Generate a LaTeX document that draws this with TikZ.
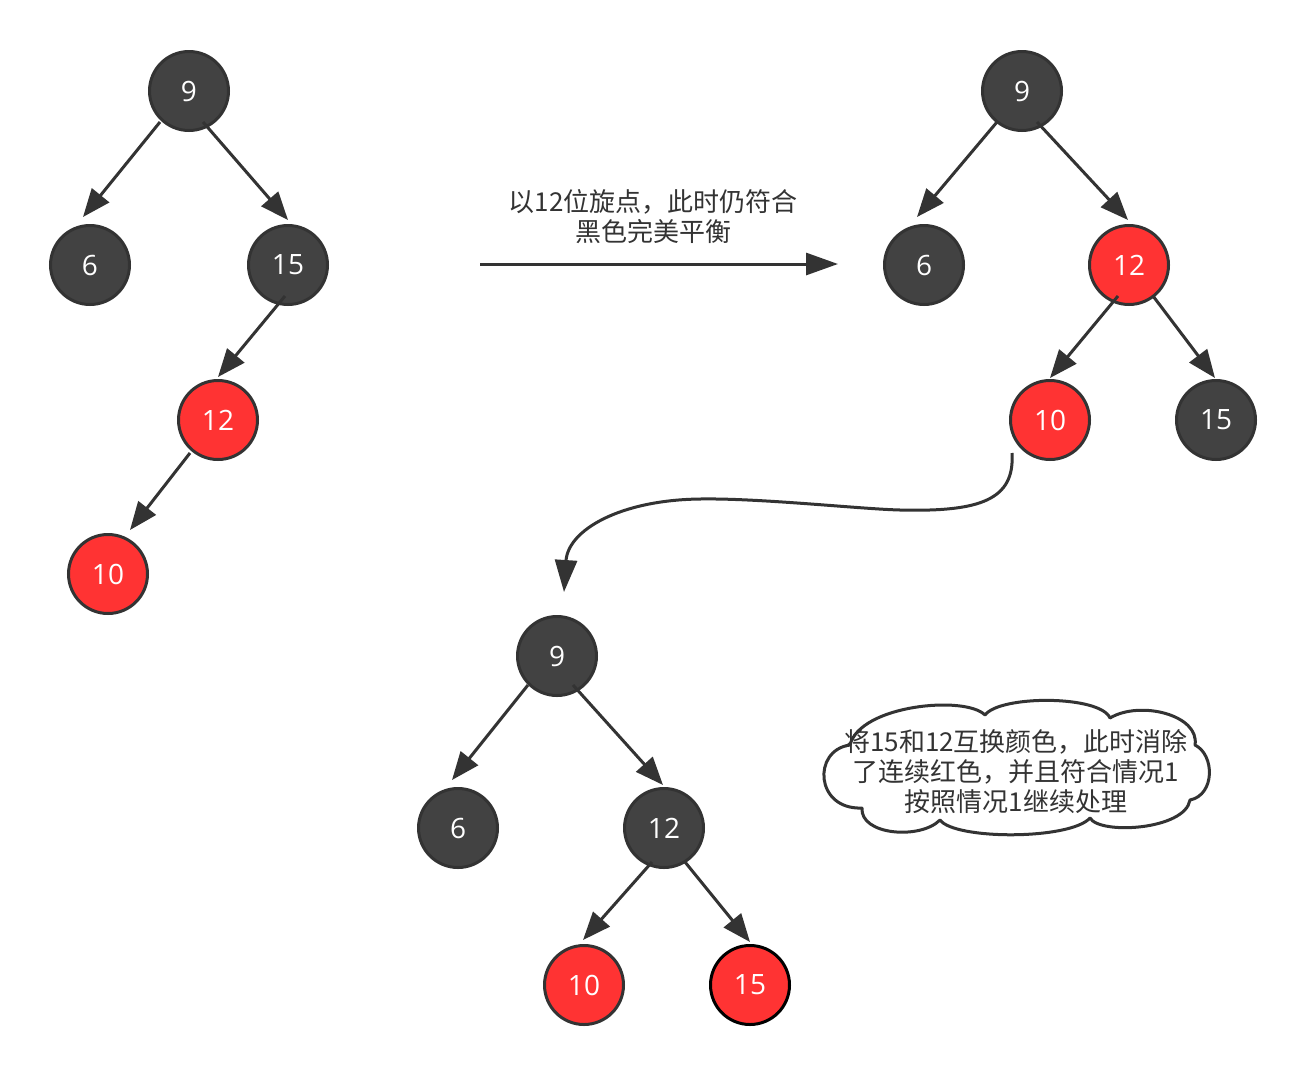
\documentclass[tikz,border=0pt]{standalone}
\usepackage{fontspec}
\setmainfont{Noto Sans CJK SC}
\newfontfamily\numfont{Open Sans}
\usetikzlibrary{arrows.meta,calc}
\definecolor{darkfill}{HTML}{424242}
\definecolor{edgecol}{HTML}{333333}
\definecolor{redfill}{HTML}{FF3333}
\begin{document}
\begin{tikzpicture}[x=1pt,y=-1pt,
  bnode/.style={circle, draw=edgecol, line width=3pt, fill=darkfill, minimum size=79pt, inner sep=0pt, text=white, font=\numfont\fontsize{28}{32}\selectfont},
  rnode/.style={bnode, fill=redfill},
  edge/.style={draw=edgecol, line width=3pt, -{Triangle[length=28pt,width=22pt]}},
  bigedge/.style={draw=edgecol, line width=3pt, -{Triangle[length=32pt,width=22pt]}},
  cloudline/.style={draw=edgecol, line width=3pt, fill=white, line join=round},
  txt/.style={text=edgecol, align=center, font=\fontsize{26}{30}\selectfont, inner sep=0pt}]
\useasboundingbox (0,0) rectangle (1306,1074);
\fill[white] (0,0) rectangle (1306,1074);

% Tree 1
\node[bnode] (a9) at (189,91) {9};
\node[bnode] (a6) at (90,265) {6};
\node[bnode] (a15) at (288,265) {15};
\node[rnode] (a12) at (218,420) {12};
\node[rnode] (a10) at (108,574) {10};
\draw[edge] ($(a9)+(-29,31)$) -- ($(a6)+(-7,-48)$);
\draw[edge] ($(a9)+(14,31)$) -- ($(a15)+(0,-45)$);
\draw[edge] ($(a15)+(-3,31)$) -- ($(a12)+(0,-43)$);
\draw[edge] ($(a12)+(-28,33)$) -- ($(a10)+(22,-44)$);

% Middle arrow
\coordinate (m1) at (480,264);
\coordinate (m2) at (838,264);
\draw[bigedge] (m1) -- (m2);
\node[txt] (mtxt) at (653,217) {以12位旋点，此时仍符合\\黑色完美平衡};

% Tree 2
\node[bnode] (b9) at (1022,91) {9};
\node[bnode] (b6) at (924,265) {6};
\node[rnode] (b12) at (1129,265) {12};
\node[rnode] (b10) at (1050,420) {10};
\node[bnode] (b15) at (1216,420) {15};
\draw[edge] ($(b9)+(-25,31)$) -- ($(b6)+(-7,-48)$);
\draw[edge] ($(b9)+(15,31)$) -- ($(b12)+(-1,-45)$);
\draw[edge] ($(b12)+(-11,31)$) -- ($(b10)+(0,-42)$);
\draw[edge] ($(b12)+(24,31)$) -- ($(b15)+(-1,-42)$);

% Tree 3
\node[bnode] (c9) at (557,656) {9};
\node[bnode] (c6) at (458,828) {6};
\node[bnode] (c12) at (664,828) {12};
\node[rnode] (c10) at (584,985) {10};
\node[rnode, draw=black] (c15) at (750,985) {15};
\draw[edge] ($(c9)+(-29,29)$) -- ($(c6)+(-6,-48)$);
\draw[edge] ($(c9)+(16,29)$) -- ($(c12)+(-1,-43)$);
\draw[edge] ($(c12)+(-12,34)$) -- ($(c10)+(-1,-45)$);
\draw[edge] ($(c12)+(21,34)$) -- ($(c15)+(0,-43)$);

% Curved arrow
\coordinate (cs) at ($(b10)+(-38,33)$);
\coordinate (ce) at ($(c9)+(7,-64)$);
\draw[bigedge] (cs) .. controls ($(cs)+(3,47)$) and (980,512) .. (900,510)
  .. controls (860,509) and (760,498) .. (700,499)
  .. controls (620,500) and (568,530) .. (ce);

% Cloud
\draw[cloudline] (862,808)
  .. controls (815,810) and (812,750) .. (850,745)
  .. controls (860,705) and (965,695) .. (985,715)
  .. controls (1000,695) and (1100,695) .. (1110,718)
  .. controls (1140,700) and (1200,715) .. (1195,745)
  .. controls (1215,755) and (1215,795) .. (1190,800)
  .. controls (1185,830) and (1100,835) .. (1090,818)
  .. controls (1070,840) and (955,840) .. (940,820)
  .. controls (920,840) and (860,835) .. (862,808) -- cycle;
\node[txt] (cloudtxt) at (1016,772) {将15和12互换颜色，此时消除\\了连续红色，并且符合情况1\\按照情况1继续处理};
\end{tikzpicture}
\end{document}
